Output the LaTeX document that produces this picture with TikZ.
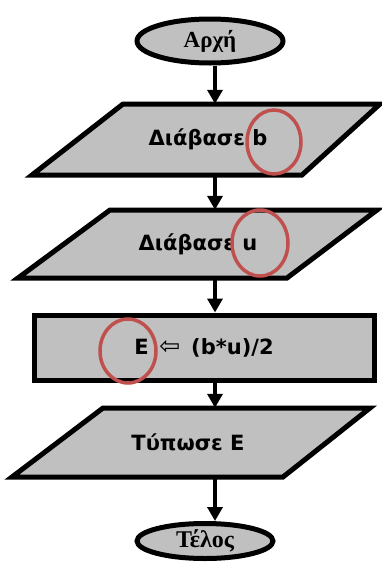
\documentclass[tikz,border=0pt]{standalone}
\usepackage{fontspec}
\setmainfont{DejaVu Sans}
\newfontfamily\termfont{Liberation Serif}
\usetikzlibrary{shapes.geometric,arrows.meta}
\definecolor{boxgray}{RGB}{192,192,192}
\definecolor{markred}{RGB}{192,80,77}
\tikzset{
  outline/.style={draw=black, line width=5pt, fill=boxgray, line join=miter},
  terminal/.style={ellipse, outline, inner sep=0pt},
  termtext/.style={font=\termfont\bfseries\fontsize{#1}{#1}\selectfont},
  label/.style={inner sep=0pt, font=\bfseries\fontsize{21}{21}\selectfont},
  flow/.style={line width=4pt, -{Triangle[length=14pt,width=15pt]}},
  ring/.style={draw=markred, line width=3.5pt},
}
\begin{document}
\begin{tikzpicture}[x=1pt, y=-1pt]
\useasboundingbox (0,0) rectangle (382,563);
\coordinate (spine) at (215,0);

% start / end terminals
\node[terminal, termtext=23, minimum width=146pt, minimum height=44pt] (start) at (210,41) {Αρχή};
\node[terminal, termtext=24, minimum width=136pt, minimum height=35pt] (stop) at (205,541) {Τέλος};

% input / output parallelograms
\draw[outline] (123,104) -- (380,104) -- (302,175) -- (32,175) -- cycle;
\node[label, minimum height=71pt] (read1) at (208,139.5) {\raisebox{-2pt}{Διάβασε b}};

\draw[outline] (110,210) -- (377,210) -- (287,278) -- (18,278) -- cycle;
\node[label, minimum height=68pt] (read2) at (198,244) {\raisebox{-2pt}{Διάβασε u}};

\draw[outline] (103,408) -- (370,408) -- (283,477) -- (12,477) -- cycle;
\node[label, minimum height=69pt] (print) at (188,442.5) {\raisebox{-2pt}{Τύπωσε Ε}};

% assignment box
\node[outline, rectangle, minimum width=340pt, minimum height=65pt, inner sep=0pt,
      label] (calc) at (204,347.5)
  {E\, {\mdseries\fontsize{25}{25}\selectfont ⇦}\, (b*u)/2};

% connectors
\draw[flow] (start.south -| spine) -- (read1.north -| spine);
\draw[flow] (read1.south -| spine) -- (read2.north -| spine);
\draw[flow] (read2.south -| spine) -- (calc.north -| spine);
\draw[flow] (calc.south -| spine) -- (print.north -| spine);
\draw[flow] (print.south -| spine) -- (stop.north -| spine);

% highlight rings
\draw[ring] (274,142) ellipse [x radius=27, y radius=32];
\draw[ring] (260,243) ellipse [x radius=28, y radius=33];
\draw[ring] (128,351) ellipse [x radius=28, y radius=32];
\end{tikzpicture}
\end{document}
